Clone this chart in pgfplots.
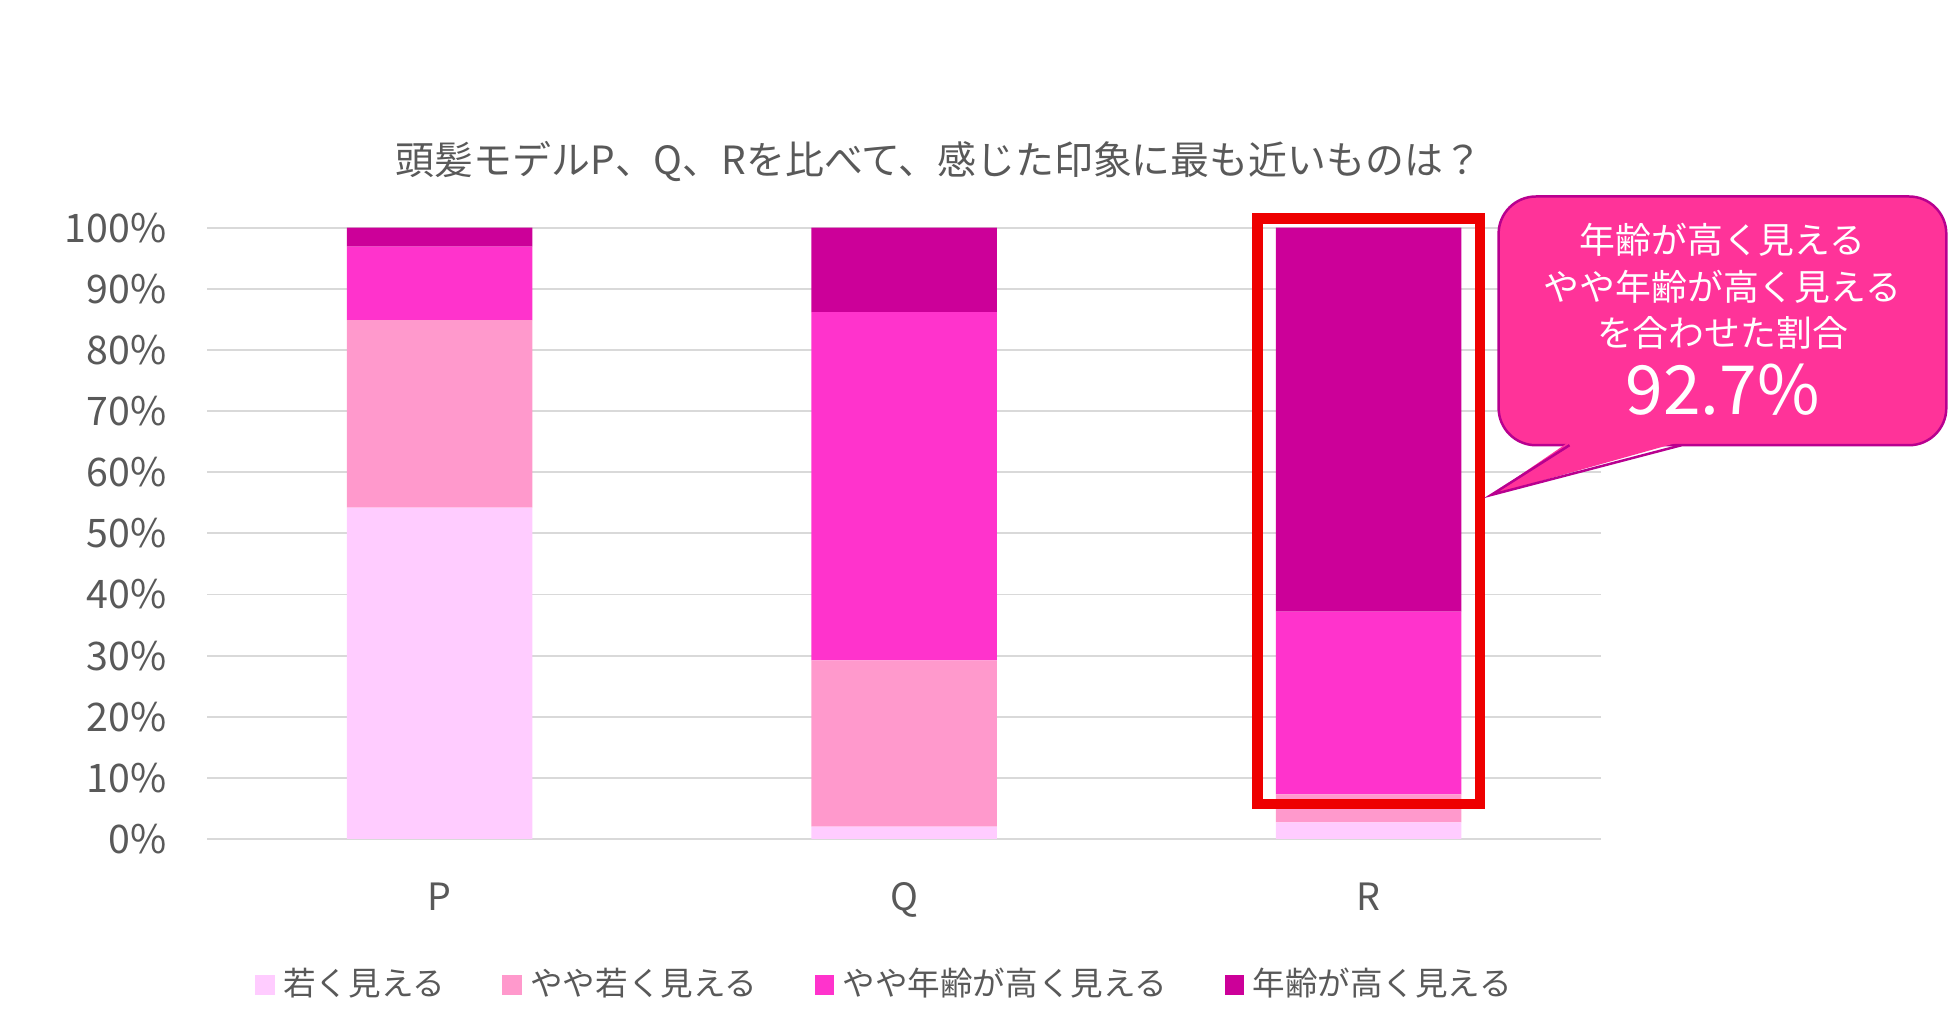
\documentclass[border=0pt]{standalone}
\usepackage{fontspec}
\setmainfont{Noto Sans CJK JP}
\usepackage{pgfplots}
\pgfplotsset{compat=1.18}

\definecolor{young}{HTML}{FFCCFF}
\definecolor{ratheryoung}{HTML}{FF99CC}
\definecolor{ratherold}{HTML}{FF33CC}
\definecolor{old}{HTML}{CC0099}
\definecolor{txtgray}{HTML}{595959}
\definecolor{gridgray}{HTML}{D9D9D9}
\definecolor{callfill}{HTML}{FF3399}
\definecolor{callline}{HTML}{B8008F}
\definecolor{boxred}{HTML}{EE0000}

\begin{document}
\begin{tikzpicture}
\path[use as bounding box] (0,0) rectangle (156.8mm,82.8mm);
\begin{axis}[
    at={(16.675mm,15.34mm)}, anchor=south west,
    scale only axis,
    width=112.05mm, height=49.15mm,
    ybar stacked,
    bar width=14.9mm,
    xmin=-0.5, xmax=2.5,
    ymin=0, ymax=100,
    xtick={0,1,2},
    xticklabels={P,Q,R},
    ytick={0,10,...,100},
    yticklabel={\pgfmathprintnumber{\tick}\%},
    /pgf/number format/assume math mode=true,
    major tick length=0pt,
    axis line style={draw=none},
    ymajorgrids,
    grid style={gridgray, line width=0.15mm},
    yticklabel style={font=\fontsize{9}{10}\selectfont, text=txtgray, anchor=east, inner sep=0pt, xshift=-3.2mm},
    xticklabel style={font=\fontsize{8.6}{10}\selectfont, text=txtgray, anchor=base, inner sep=0pt, yshift=-5.77mm},
    legend image code/.code={\fill[#1] (0.5mm,-0.78mm) rectangle (2.05mm,0.78mm);},
    legend columns=4,
    legend style={
        at={(rel axis cs:0.4885,-0.2389)}, anchor=center,
        draw=none, fill=none,
        font=\fontsize{7.45}{9}\selectfont, text=txtgray,
        /tikz/every even column/.append style={column sep=3.9mm},
        /tikz/every odd column/.append style={column sep=0mm},
    },
]
% 若く見える
\addplot[fill=young, draw=none] coordinates {(0,54.2) (1,2.0) (2,2.7)};
\addlegendentry{若く見える}
% やや若く見える
\addplot[fill=ratheryoung, draw=none] coordinates {(0,30.7) (1,27.2) (2,4.6)};
\addlegendentry{やや若く見える}
% やや年齢が高く見える
\addplot[fill=ratherold, draw=none] coordinates {(0,12.0) (1,57.0) (2,29.9)};
\addlegendentry{やや年齢が高く見える}
% 年齢が高く見える
\addplot[fill=old, draw=none] coordinates {(0,3.1) (1,13.8) (2,62.8)};
\addlegendentry{年齢が高く見える}
\end{axis}

\begin{scope}[x=0.1mm, y=-0.1mm, shift={(0mm,82.8mm)}]
% title
\node[text=txtgray, font=\fontsize{8.9}{10}\selectfont] at (755,130) {頭髪モデルP、Q、Rを比べて、感じた印象に最も近いものは？};
% highlight box round R
\draw[boxred, line width=0.85mm] (1011,175.5) rectangle (1190,646.5);
% callout
\draw[fill=callfill, draw=callline, line width=0.2mm, rounded corners=3mm] (1205,158) rectangle (1565,358);
\fill[callfill] (1262,355) -- (1199,398) -- (1352,355) -- cycle;
\draw[callline, line width=0.2mm, line join=miter] (1262,358) -- (1199,398) -- (1352,358);
\node[text=white, font=\fontsize{8.2}{10}\selectfont] at (1385,193) {年齢が高く見える};
\node[text=white, font=\fontsize{8.2}{10}\selectfont] at (1385,231) {やや年齢が高く見える};
\node[text=white, font=\fontsize{8.2}{10}\selectfont] at (1385,268) {を合わせた割合};
\node[text=white, font=\fontsize{15.5}{18}\selectfont] at (1385,313) {92.7\%};
\end{scope}
\end{tikzpicture}
\end{document}
